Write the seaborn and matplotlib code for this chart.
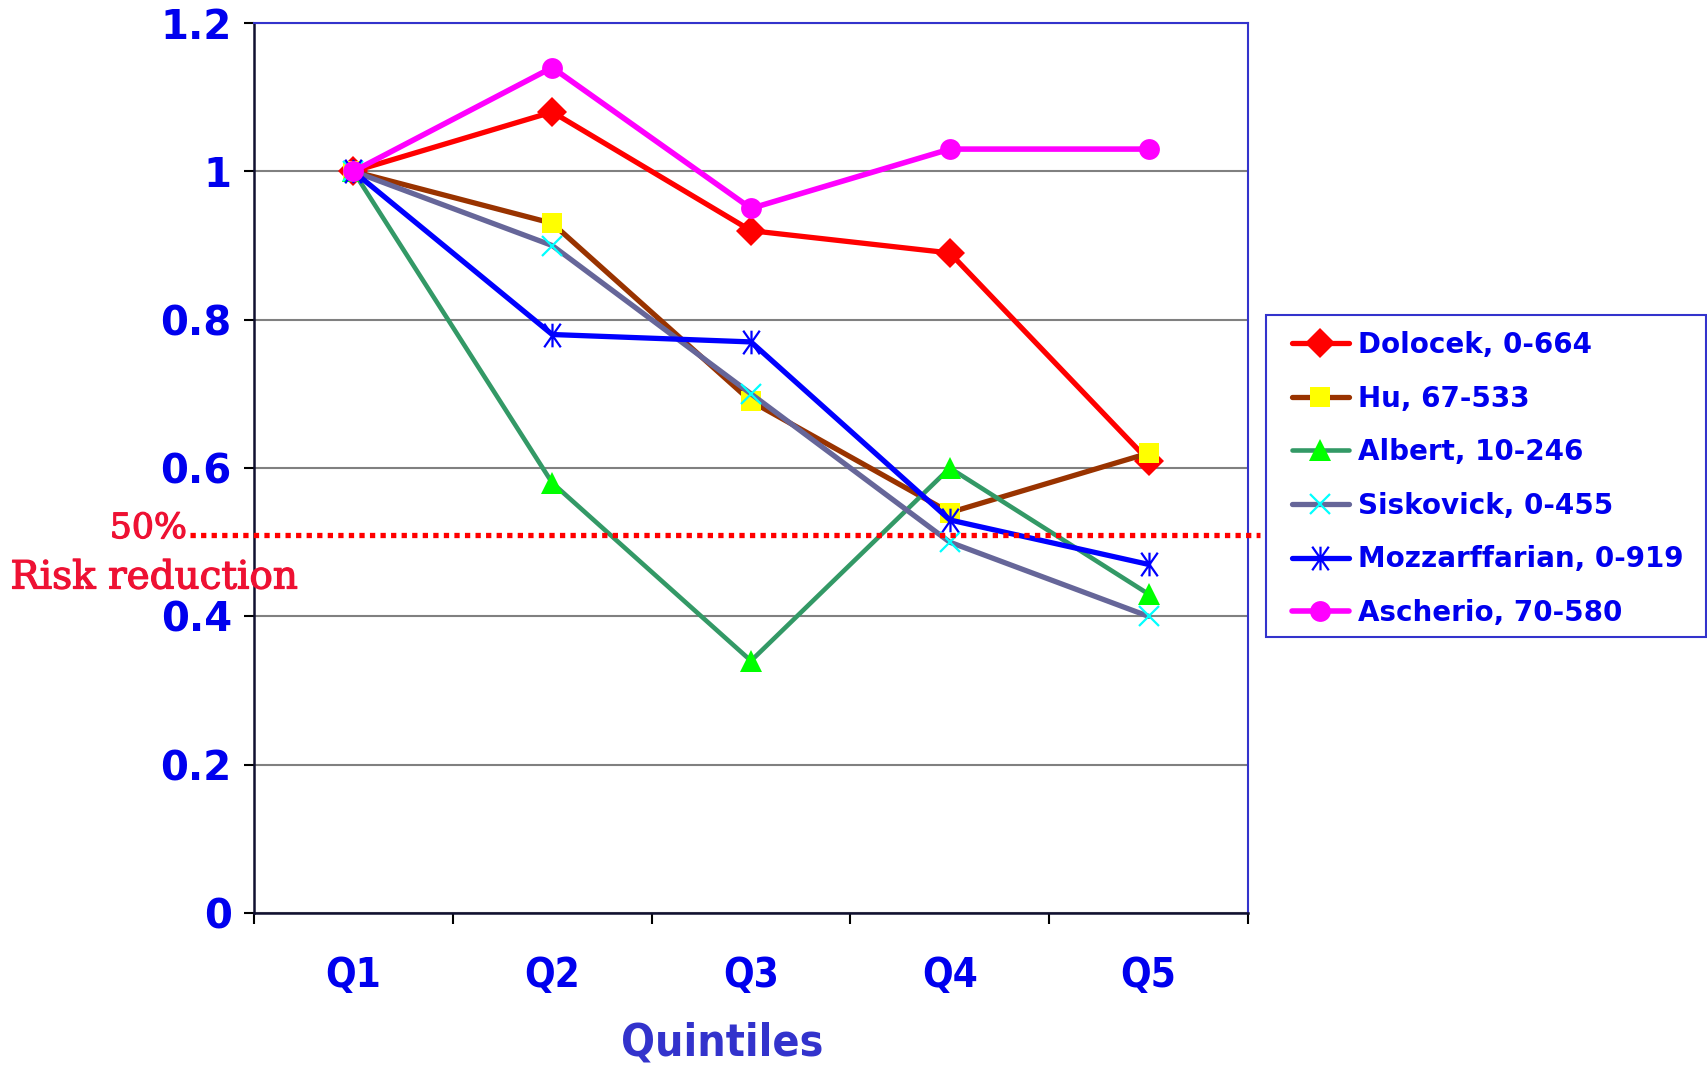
import numpy as np
import pandas as pd
import matplotlib
matplotlib.use('Agg')
import matplotlib.pyplot as plt
import matplotlib.transforms as mtransforms
import matplotlib.patheffects as pe
from matplotlib.patches import Rectangle
from matplotlib.path import Path
from matplotlib.ticker import FixedLocator, FormatStrFormatter
import seaborn as sns

sns.set_style('white')
plt.rcParams['font.family'] = ['DejaVu Sans']

quintiles = ['Q1', 'Q2', 'Q3', 'Q4', 'Q5']
studies = ['Dolocek, 0-664', 'Hu, 67-533', 'Albert, 10-246',
           'Siskovick, 0-455', 'Mozzarffarian, 0-919', 'Ascherio, 70-580']
dolocek = [1.0, 1.08, 0.92, 0.89, 0.61]
hu = [1.0, 0.93, 0.69, 0.54, 0.62]
albert = [1.0, 0.58, 0.34, 0.60, 0.43]
siskovick = [1.0, 0.90, 0.70, 0.50, 0.40]
mozzarffarian = [1.0, 0.78, 0.77, 0.53, 0.47]
ascherio = [1.0, 1.14, 0.95, 1.03, 1.03]
risk_line = 0.51
yticks = [0, 0.2, 0.4, 0.6, 0.8, 1.0, 1.2]

series = [dolocek, hu, albert, siskovick, mozzarffarian, ascherio]
df = pd.DataFrame({
    'quintile': quintiles * len(studies),
    'rr': np.concatenate(series),
    'study': np.repeat(studies, len(quintiles)),
})

# excel style asterisk: a vertical stroke crossed by a steep X
star = Path([(0, -1), (0, 1), (-0.7, -1), (0.7, 1), (-0.7, 1), (0.7, -1)],
            [Path.MOVETO, Path.LINETO] * 3)

# line colour, marker, marker size, marker face, marker edge, line width
styles = {
    'Dolocek, 0-664': ('#ff0000', 'D', 15, '#ff0000', '#ff0000', 3.8),
    'Hu, 67-533': ('#993300', 's', 15, '#ffff00', '#ffff00', 3.8),
    'Albert, 10-246': ('#339966', '^', 16, '#00ff00', '#00ff00', 3.3),
    'Siskovick, 0-455': ('#666699', 'x', 15, '#00ffff', '#00ffff', 3.8),
    'Mozzarffarian, 0-919': ('#0000ff', star, 17, '#0000ff', '#0000ff', 3.8),
    'Ascherio, 70-580': ('#ff00ff', 'o', 15, '#ff00ff', '#ff00ff', 4.0),
}

fig = plt.figure(figsize=(17.08, 10.65), dpi=100)
ax = fig.add_axes([0.1487, 0.1427, 0.582, 0.8357])

for name in studies:
    lc, mk, ms, mfc, mec, lw = styles[name]
    sub = df[df['study'] == name]
    mew = 1.6 if isinstance(mk, Path) or mk == 'x' else 0
    sns.lineplot(data=sub, x='quintile', y='rr', ax=ax, color=lc, marker=mk,
                 markersize=ms, markerfacecolor=mfc, markeredgecolor=mec,
                 markeredgewidth=mew, linewidth=lw, label=name, sort=False)

handles, labels = ax.get_legend_handles_labels()
ax.get_legend().remove()

ax.set_xlim(-0.5, 4.5)
ax.set_ylim(0, 1.2)
ax.yaxis.set_major_locator(FixedLocator(yticks))
ax.yaxis.set_major_formatter(FormatStrFormatter('%g'))
ax.grid(axis='y', color='#808080', linewidth=1.5)
ax.grid(axis='x', visible=False)
ax.set_axisbelow(True)
ax.set_xlabel('')
ax.set_ylabel('')

ax.xaxis.set_minor_locator(FixedLocator(np.arange(-0.5, 5.0, 1.0)))
ax.tick_params(axis='x', which='major', length=0, pad=31, labelsize=29,
               labelcolor='#0000ee')
ax.tick_params(axis='x', which='minor', length=8, width=1.5, color='black',
               direction='out', bottom=True)
ax.tick_params(axis='y', which='major', length=7, width=1.5, color='black',
               direction='out', left=True, pad=9, labelsize=29,
               labelcolor='#0000ee')
for lab in ax.get_xticklabels():
    lab.set_fontweight('bold')
    lab.set_fontstretch('condensed')
for lab in ax.get_yticklabels():
    lab.set_fontweight('bold')

for side in ['left', 'bottom']:
    ax.spines[side].set_color('#101030')
    ax.spines[side].set_linewidth(1.8)
for side in ['top', 'right']:
    ax.spines[side].set_color('#3333cc')
    ax.spines[side].set_linewidth(1.5)
    ax.spines[side].set_visible(True)

# 50% risk reduction reference line, runs a bit past the axes
trans = mtransforms.blended_transform_factory(ax.transAxes, ax.transData)
ax.plot([-0.064, 1.012], [risk_line, risk_line], transform=trans,
        color='#ff0000', linewidth=3.8, linestyle=(0, (1, 1)),
        clip_on=False, zorder=5)
thick = [pe.withStroke(linewidth=0.9, foreground='#ee1133')]
fig.text(187 / 1708, 1 - 528 / 1065, '50%', family='DejaVu Serif',
         fontsize=25, color='#ee1133', ha='right', va='center',
         path_effects=thick)
fig.text(154 / 1708, 1 - 578 / 1065, 'Risk reduction', family='DejaVu Serif',
         fontsize=28, color='#ee1133', ha='center', va='center',
         path_effects=thick)

fig.text(722 / 1708, 1 - 1022 / 1065, 'Quintiles', fontsize=32,
         fontweight='bold', fontstretch='condensed', color='#3333cc',
         ha='center', va='top')

# legend frame drawn separately so the entries can sit where they belong
fig.patches.append(Rectangle((1266 / 1708, 1 - 637 / 1065), 440 / 1708,
                             322 / 1065, transform=fig.transFigure,
                             facecolor='white', edgecolor='#3333cc',
                             linewidth=1.5, zorder=0))
leg = fig.legend(handles, labels, loc='upper left',
                 bbox_to_anchor=(1292 / 1708, 1 - 331 / 1065), borderaxespad=0,
                 borderpad=0, fontsize=20, frameon=False, handlelength=2.05,
                 handletextpad=0.31, labelspacing=0.92)
for t in leg.get_texts():
    t.set_color('#0000ee')
    t.set_fontweight('bold')

fig.savefig('out.png', dpi=100)
